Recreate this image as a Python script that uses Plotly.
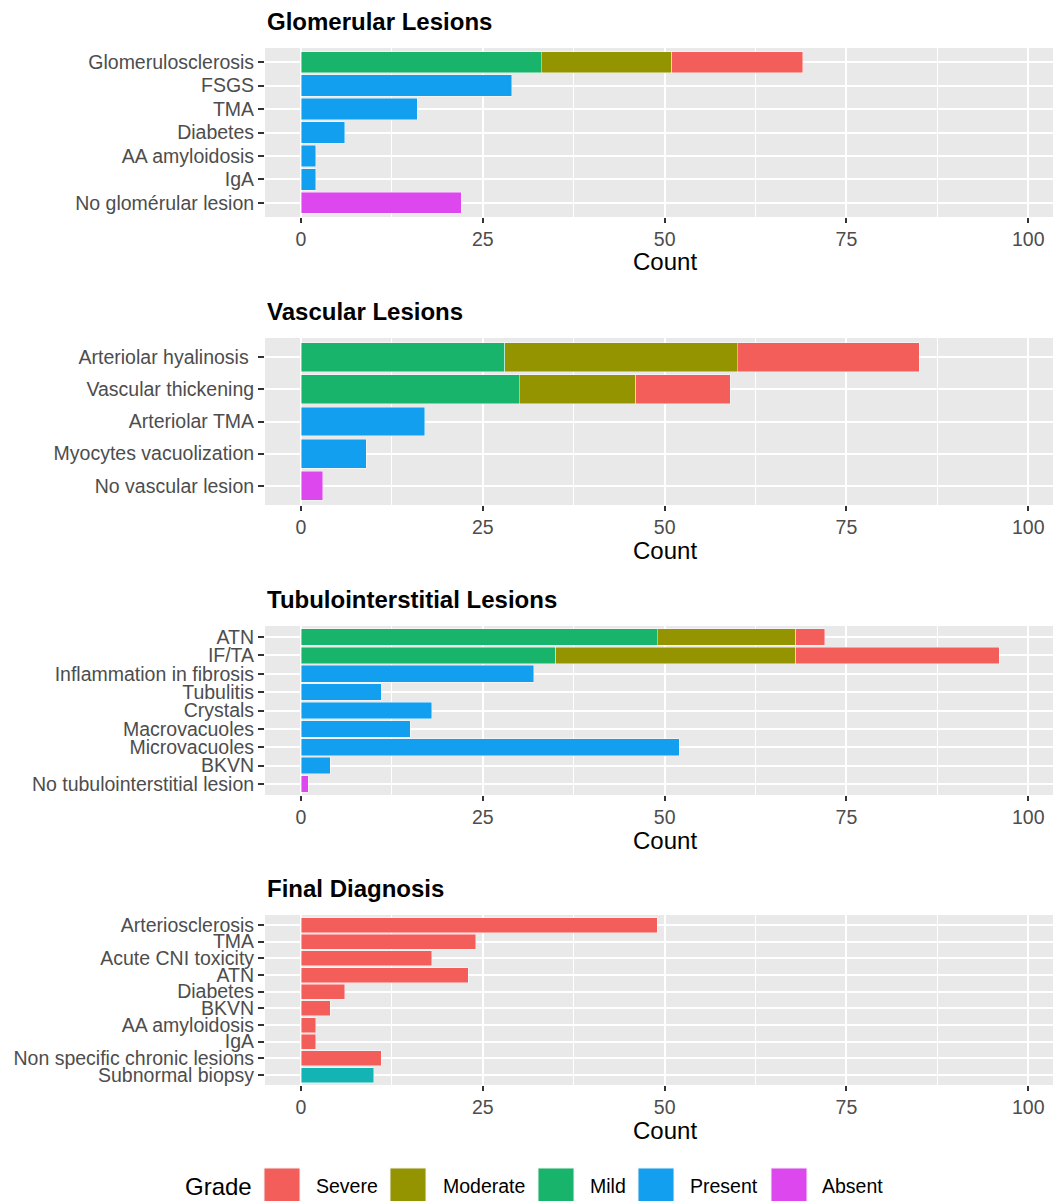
import plotly.graph_objects as go

# ---------------- data ----------------
grades = ["Severe", "Moderate", "Mild", "Present", "Absent"]
grade_colors = ["#F35E5A", "#949400", "#18B46B", "#139FEF", "#DC48EE"]
normal_color = "#15B4B4"

glom_cats = ["Glomerulosclerosis", "FSGS", "TMA", "Diabetes", "AA amyloidosis", "IgA", "No glomérular lesion"]
glom_mild = [33, 0, 0, 0, 0, 0, 0]
glom_moderate = [18, 0, 0, 0, 0, 0, 0]
glom_severe = [18, 0, 0, 0, 0, 0, 0]
glom_present = [0, 29, 16, 6, 2, 2, 0]
glom_absent = [0, 0, 0, 0, 0, 0, 22]

vasc_cats = ["Arteriolar hyalinosis ", "Vascular thickening", "Arteriolar TMA", "Myocytes vacuolization", "No vascular lesion"]
vasc_mild = [28, 30, 0, 0, 0]
vasc_moderate = [32, 16, 0, 0, 0]
vasc_severe = [25, 13, 0, 0, 0]
vasc_present = [0, 0, 17, 9, 0]
vasc_absent = [0, 0, 0, 0, 3]

tub_cats = ["ATN", "IF/TA", "Inflammation in fibrosis", "Tubulitis", "Crystals", "Macrovacuoles",
            "Microvacuoles", "BKVN", "No tubulointerstitial lesion"]
tub_mild = [49, 35, 0, 0, 0, 0, 0, 0, 0]
tub_moderate = [19, 33, 0, 0, 0, 0, 0, 0, 0]
tub_severe = [4, 28, 0, 0, 0, 0, 0, 0, 0]
tub_present = [0, 0, 32, 11, 18, 15, 52, 4, 0]
tub_absent = [0, 0, 0, 0, 0, 0, 0, 0, 1]

dx_cats = ["Arteriosclerosis", "TMA", "Acute CNI toxicity", "ATN", "Diabetes", "BKVN", "AA amyloidosis",
           "IgA", "Non specific chronic lesions", "Subnormal biopsy"]
dx_severe = [49, 24, 18, 23, 6, 4, 2, 2, 11, 0]
dx_normal = [0, 0, 0, 0, 0, 0, 0, 0, 0, 10]

panel_titles = ["Glomerular Lesions", "Vascular Lesions", "Tubulointerstitial Lesions", "Final Diagnosis"]
x_ticks = [0, 25, 50, 75, 100]
x_minor = [12.5, 37.5, 62.5, 87.5]

# ---------------- layout helpers ----------------
W, H = 1053, 1201
FONT = "Liberation Sans, Arial, sans-serif"
panel_px = [(48, 217), (338, 505), (626, 795), (915, 1085)]
x_left_px = 265
x_range = [-4.95, 103.4]
AXIS_FS = 19.5


def py(p):
    return 1 - p / H


col = dict(zip(grades, grade_colors))

panels = [
    (glom_cats, [("Mild", glom_mild, col["Mild"]), ("Moderate", glom_moderate, col["Moderate"]),
                 ("Severe", glom_severe, col["Severe"]), ("Present", glom_present, col["Present"]),
                 ("Absent", glom_absent, col["Absent"])]),
    (vasc_cats, [("Mild", vasc_mild, col["Mild"]), ("Moderate", vasc_moderate, col["Moderate"]),
                 ("Severe", vasc_severe, col["Severe"]), ("Present", vasc_present, col["Present"]),
                 ("Absent", vasc_absent, col["Absent"])]),
    (tub_cats, [("Mild", tub_mild, col["Mild"]), ("Moderate", tub_moderate, col["Moderate"]),
                ("Severe", tub_severe, col["Severe"]), ("Present", tub_present, col["Present"]),
                ("Absent", tub_absent, col["Absent"])]),
    (dx_cats, [("Severe", dx_severe, col["Severe"]), ("Normal", dx_normal, normal_color)]),
]

fig = go.Figure()
annotations = []
layout_axes = {}

for i, (cats, series) in enumerate(panels):
    sfx = "" if i == 0 else str(i + 1)
    xref, yref = "x" + sfx, "y" + sfx
    for name, vals, color in series:
        xs = [v if v > 0 else None for v in vals]
        fig.add_trace(go.Bar(
            y=cats, x=xs, orientation="h", name=name, width=0.9,
            marker=dict(color=color, line=dict(color="rgba(255,255,255,0.55)", width=0.8)),
            xaxis=xref, yaxis=yref, showlegend=False, hoverinfo="x+y",
        ))
    top, bot = panel_px[i]
    n = len(cats)
    layout_axes["xaxis" + sfx] = dict(
        domain=[x_left_px / W, 1.0], range=x_range, anchor=yref,
        tickmode="array", tickvals=x_ticks, ticktext=[str(t) for t in x_ticks],
        ticks="outside", ticklen=5, tickwidth=2, tickcolor="#333333",
        tickfont=dict(family=FONT, size=AXIS_FS, color="#4D4D4D"),
        showgrid=True, gridcolor="white", gridwidth=1.8,
        minor=dict(tickvals=x_minor, showgrid=True, gridcolor="white", gridwidth=0.8, ticks=""),
        zeroline=False, showline=False, fixedrange=True, automargin=False,
    )
    layout_axes["yaxis" + sfx] = dict(
        domain=[py(bot), py(top)], anchor=xref, type="category",
        categoryorder="array", categoryarray=cats, range=[n - 1 + 0.6, -0.6],
        tickmode="array", tickvals=cats, ticktext=cats,
        ticks="outside", ticklen=6, tickwidth=2, tickcolor="#333333",
        tickfont=dict(family=FONT, size=AXIS_FS, color="#4D4D4D"),
        showgrid=True, gridcolor="white", gridwidth=1.8,
        zeroline=False, showline=False, fixedrange=True, automargin=False,
    )
    annotations.append(dict(
        text="<b>" + panel_titles[i] + "</b>", xref="paper", yref="paper",
        x=x_left_px / W, y=py(top - 27), xanchor="left", yanchor="middle", showarrow=False,
        font=dict(family=FONT, size=24, color="black")))
    annotations.append(dict(
        text="Count", xref="paper", yref="paper",
        x=(301 + 50 * 7.27) / W, y=py(bot + 45), xanchor="center", yanchor="middle", showarrow=False,
        font=dict(family=FONT, size=24, color="black")))

# ---------------- custom ggplot-like legend ----------------
legend_y = 1186
annotations.append(dict(text="Grade", xref="paper", yref="paper", x=183 / W, y=py(legend_y),
                        xanchor="left", yanchor="middle", showarrow=False,
                        font=dict(family=FONT, size=24, color="black")))
key_x = [264, 390, 538, 638, 771]
text_x = [314, 441, 588, 688, 820]
key_size = 36
key_top = 1168
shapes = []
for g, c, kx, tx in zip(grades, grade_colors, key_x, text_x):
    shapes.append(dict(type="rect", xref="paper", yref="paper",
                       x0=kx / W, x1=(kx + key_size) / W,
                       y0=py(key_top + key_size), y1=py(key_top),
                       fillcolor=c, line=dict(color="#F2F2F2", width=1)))
    annotations.append(dict(text=g, xref="paper", yref="paper", x=tx / W, y=py(legend_y),
                            xanchor="left", yanchor="middle", showarrow=False,
                            font=dict(family=FONT, size=19.5, color="black")))

fig.update_layout(
    width=W, height=H, margin=dict(l=0, r=0, t=0, b=0),
    paper_bgcolor="white", plot_bgcolor="#E9E9E9",
    barmode="stack", bargap=0.1, showlegend=False,
    annotations=annotations, shapes=shapes,
    font=dict(family=FONT),
    **layout_axes,
)

fig.write_html("out.html", config={"displayModeBar": False},
               post_script="document.body.style.margin='0px';")
